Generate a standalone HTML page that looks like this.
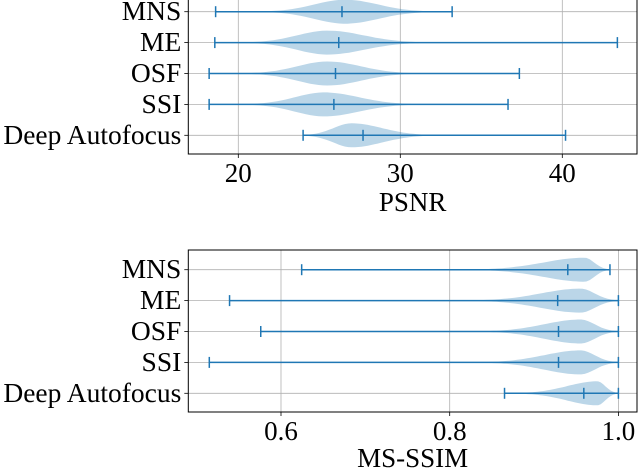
<!DOCTYPE html>
<html><head><meta charset="utf-8"><style>
html,body{margin:0;padding:0;background:#fff;}
svg{display:block;font-family:"Liberation Serif","DejaVu Serif",serif;}
</style></head><body>
<svg id="chart" width="638" height="470" viewBox="0 0 638 470" xmlns="http://www.w3.org/2000/svg"></svg>
<script>
const categories = ["MNS","ME","OSF","SSI","Deep Autofocus"];
// PSNR panel
const psnrMin = [18.6, 18.55, 18.2, 18.2, 24.0];
const psnrMedian = [26.4, 26.2, 26.0, 25.9, 27.7];
const psnrMax = [33.2, 43.4, 37.35, 36.65, 40.2];
const psnrKdeLo = [21.5, 20.5, 20.5, 20.5, 24.0];
const psnrKdePeak = [26.6, 25.5, 25.5, 25.3, 27.0];
const psnrKdeHi = [32.0, 31.5, 31.0, 31.0, 32.0];
const psnrTicks = [20, 30, 40];
// MS-SSIM panel
const ssimMin = [0.6245, 0.539, 0.576, 0.515, 0.865];
const ssimMedian = [0.940, 0.928, 0.929, 0.929, 0.959];
const ssimMax = [0.990, 1.0, 1.0, 1.0, 1.0];
const ssimKdeLo = [0.83, 0.83, 0.84, 0.84, 0.88];
const ssimKdePeak = [0.96, 0.955, 0.955, 0.955, 0.975];
const ssimKdeHi = [0.99, 1.0, 1.0, 1.0, 1.0];
const ssimTicks = ["0.6", "0.8", "1.0"];

const NS = "http://www.w3.org/2000/svg";
const svg = document.getElementById("chart");
function mk(tag, attrs, parent){const e=document.createElementNS(NS,tag);for(const k in attrs)e.setAttribute(k,attrs[k]);(parent||svg).appendChild(e);return e;}

function panel(cfg){
  const g = mk("g",{});
  
  
  const L=188.3,R=637,T=cfg.top,B=cfg.bottom;
  const x = v => cfg.x0px + (v - cfg.x0) * cfg.scale;
  const y = i => cfg.row0 + i * cfg.rowStep;
  cfg.ticks.forEach(t=>{
    const gl=mk("line",{x1:x(+t),x2:x(+t),y1:T,y2:B,stroke:"#b0b0b0","stroke-width":0.8},g);
    
    
    const tk=mk("line",{x1:x(+t),x2:x(+t),y1:B,y2:B+4,stroke:"#000","stroke-width":0.8},g);
    
    
    const tl=mk("text",{x:x(+t),y:B+28,"font-size":27,"text-anchor":"middle"},g);
    tl.textContent=t;
    
    
  });
  categories.forEach((c,i)=>{
    const gl=mk("line",{x1:L,x2:R,y1:y(i),y2:y(i),stroke:"#b0b0b0","stroke-width":0.8},g);
    
    
    const tk=mk("line",{x1:L-4,x2:L,y1:y(i),y2:y(i),stroke:"#000","stroke-width":0.8},g);
    
    
    const tl=mk("text",{x:L-7,y:y(i)+8.5,"font-size":27.5,"text-anchor":"end"},g);
    tl.textContent=c;
    
    
  });
  categories.forEach((c,i)=>{
    const lo=cfg.lo[i],pk=cfg.pk[i],hi=cfg.hi[i],hw=cfg.hw;
    const N=40;
    const top=[],bot=[];
    for(let k=0;k<=N;k++){
      const v=lo+(hi-lo)*k/N;
      const s=v<pk?(pk-lo)/1.9:(hi-pk)/1.9;
      const w=hw*Math.exp(-Math.pow((v-pk)/s,2));
      top.push(x(v).toFixed(1)+","+(y(i)-w).toFixed(1));
      bot.unshift(x(v).toFixed(1)+","+(y(i)+w).toFixed(1));
    }
    const p=mk("polygon",{points:top.concat(bot).join(" "),fill:"#1f77b4","fill-opacity":0.3},g);
    
    
  });
  categories.forEach((c,i)=>{
    const col="#1f77b4";
    const ln=mk("line",{x1:x(cfg.min[i]),x2:x(cfg.max[i]),y1:y(i),y2:y(i),stroke:col,"stroke-width":1.5},g);
    
    
    [cfg.min[i],cfg.med[i],cfg.max[i]].forEach((v,j)=>{
      const cap=mk("line",{x1:x(v),x2:x(v),y1:y(i)-5.5,y2:y(i)+5.5,stroke:col,"stroke-width":1.5},g);
      
      
    });
  });
  const fr=mk("rect",{x:L,y:T,width:R-L,height:B-T,fill:"none",stroke:"#000","stroke-width":1},g);
  
  
  const tt=mk("text",{x:(L+R)/2,y:cfg.titleY,"font-size":27,"text-anchor":"middle"},g);
  tt.textContent=cfg.title;
  
  
}
panel({name:"psnr-panel",top:-8,bottom:154,row0:11.7,rowStep:30.9,x0:20,x0px:238.3,scale:16.2,
  ticks:psnrTicks,lo:psnrKdeLo,pk:psnrKdePeak,hi:psnrKdeHi,hw:12,min:psnrMin,med:psnrMedian,max:psnrMax,title:"PSNR",titleY:211});
panel({name:"ms-ssim-panel",top:250,bottom:412,row0:269.7,rowStep:30.9,x0:0.6,x0px:281,scale:843.5,
  ticks:ssimTicks,lo:ssimKdeLo,pk:ssimKdePeak,hi:ssimKdeHi,hw:12,min:ssimMin,med:ssimMedian,max:ssimMax,title:"MS-SSIM",titleY:467});
</script>
</body></html>
